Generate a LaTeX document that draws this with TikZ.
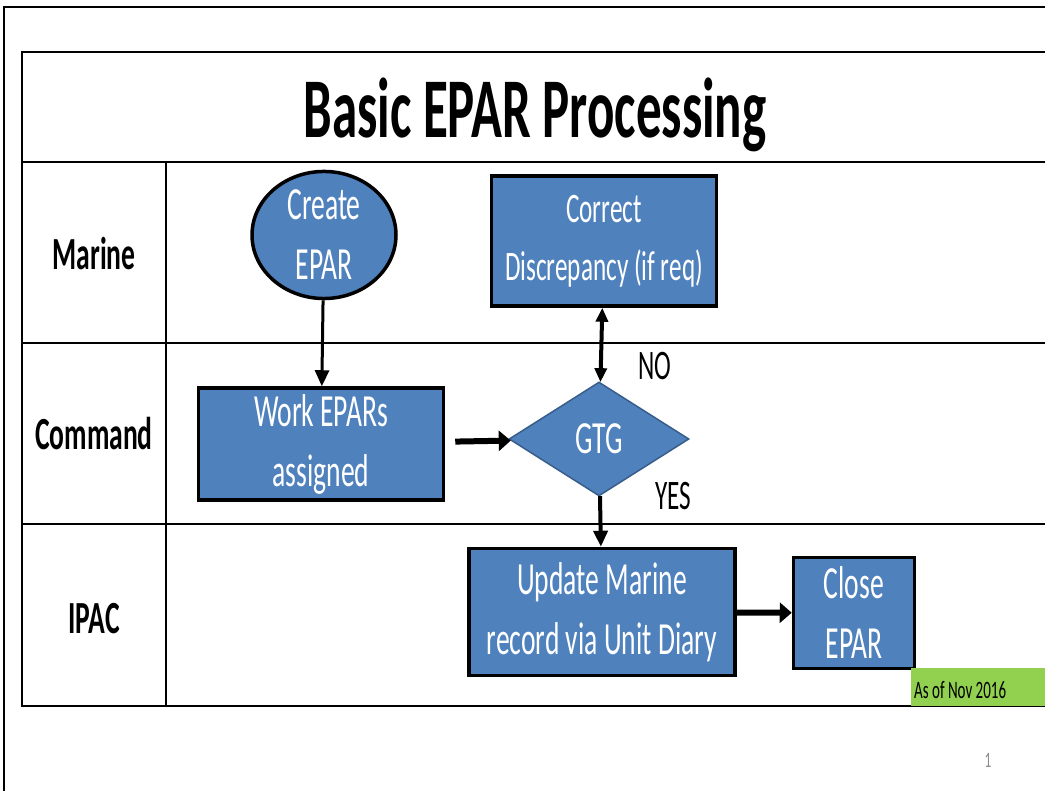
\documentclass[tikz,border=0pt]{standalone}
\usepackage{fontspec}
\setmainfont{Carlito}[FakeStretch=0.6]
\usepackage{tikz}
\usetikzlibrary{arrows.meta,positioning,shapes.geometric}
\definecolor{primary}{HTML}{4F81BD}
\definecolor{edge}{HTML}{385D8A}
\definecolor{stamp}{HTML}{92D050}
\definecolor{ink}{HTML}{000000}

\begin{document}
\begin{tikzpicture}[
    x=1pt, y=-1pt,
    box/.style={draw=ink, line width=3.5pt, fill=primary, text=white, align=center, inner sep=0pt, font=\fontsize{46}{60}\selectfont},
    lane/.style={anchor=base, font=\fontsize{46}{56}\selectfont\bfseries},
    tag/.style={anchor=base, font=\fontsize{42}{50}\selectfont},
    arr/.style={-{Triangle[length=16pt,width=14pt]}, line width=3pt, draw=ink}
  ]
  \useasboundingbox (0,0) rectangle (1045,791);

  % frame and lanes
  \draw[line width=2pt] (4,791) -- (4,7) -- (1045,7);
  \draw[line width=2pt] (1045,52) -- (22,52) -- (22,706) -- (1045,706);
  \draw[line width=2pt] (22,162) -- (1045,162);
  \draw[line width=2pt] (22,343) -- (1045,343);
  \draw[line width=2pt] (22,524) -- (1045,524);
  \draw[line width=2pt] (166,162) -- (166,706);

  \node[anchor=base, font=\fontsize{85}{95}\selectfont\bfseries] (title) at (535,138) {Basic EPAR Processing};
  \node[lane] (marine) at (94,270) {Marine};
  \node[lane] (command) at (94,450) {Command};
  \node[lane] (ipac) at (94,633) {IPAC};

  % steps
  \node[box, ellipse, minimum width=144pt, minimum height=126pt] (create) at (324,235) {Create\\EPAR};
  \node[box, minimum width=245pt, minimum height=112pt] (work) at (321,444) {Work EPARs\\assigned};
  \node[box, minimum width=225pt, minimum height=130pt, font=\fontsize{42}{58}\selectfont] (correct) at (604,241) {Correct\\Discrepancy (if req)};
  \node[box, diamond, draw=edge, line width=1.5pt, minimum width=180pt, minimum height=114pt] (gtg) at (599,439) {GTG};
  \node[box, minimum width=266pt, minimum height=127pt] (update) at (602,612) {Update Marine\\record via Unit Diary};
  \node[box, minimum width=121pt, minimum height=111pt] (close) at (854,613) {Close\\EPAR};

  \node[tag] (no) at (655,380) {NO};
  \node[tag] (yes) at (673,510) {YES};

  \draw[arr] (create) -- (work);
  \draw[arr, line width=6pt, shorten <=10pt, -{Triangle[length=12pt,width=20pt]}] (work) -- (gtg);
  \draw[arr, line width=4pt, {Triangle[length=14pt,width=12pt]}-{Triangle[length=14pt,width=12pt]}] (correct) -- (gtg);
  \draw[arr, line width=4pt] (gtg) -- (update);
  \draw[arr, line width=6pt, -{Triangle[length=12pt,width=20pt]}] (update) -- (close);

  % stamp and page number
  \node[fill=stamp, minimum width=134pt, minimum height=38pt, inner sep=0pt] (stampbox) at (978,687) {};
  \node[anchor=base west, font=\fontsize{25}{30}\selectfont, inner sep=0pt] (asof) at (914,698) {As of Nov 2016};
  \node[font=\fontsize{22}{26}\selectfont, text=black!45] (page) at (988,760) {1};
\end{tikzpicture}
\end{document}
